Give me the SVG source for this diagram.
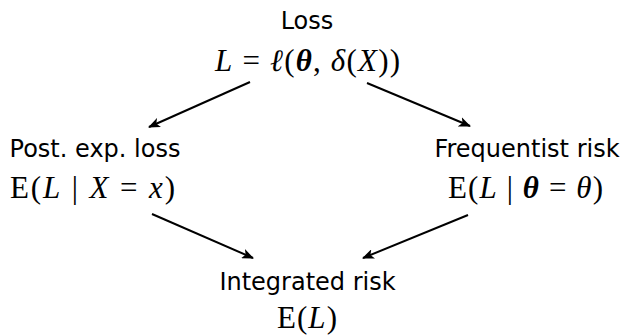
<svg xmlns="http://www.w3.org/2000/svg" width="623" height="335" viewBox="0 0 623 335">
<style>
.lab{font-family:"DejaVu Sans","Liberation Sans",sans-serif;font-size:24px;fill:#000;text-anchor:middle}
.m{font-family:"Liberation Serif","DejaVu Serif",serif;font-size:31px;fill:#000;text-anchor:middle}
.i{font-style:italic}
.b{font-style:italic;font-weight:bold}
.c{stroke:#000;stroke-width:2;fill:none}
</style>
<defs>
<marker id="ah" viewBox="0 0 12 10" refX="11" refY="5" markerWidth="12" markerHeight="10" markerUnits="userSpaceOnUse" orient="auto">
<path d="M0,0 L12,5 L0,10 L3,5 Z" fill="#000"/>
</marker>
</defs>
<rect width="623" height="335" fill="#fff"/>
<g id="loss">
<text class="lab" x="307" y="29">Loss</text>
<text class="m" x="307.5" y="71" textLength="185" lengthAdjust="spacing"><tspan class="i">L</tspan> = <tspan class="i">ℓ</tspan>(<tspan class="b">θ</tspan>, <tspan class="i">δ</tspan>(<tspan class="i">X</tspan>))</text>
</g>
<g id="post">
<text class="lab" x="95" y="157">Post. exp. loss</text>
<text class="m" x="92.5" y="198" textLength="165" lengthAdjust="spacing">E(<tspan class="i">L</tspan> | <tspan class="i">X</tspan> = <tspan class="i">x</tspan>)</text>
</g>
<g id="freq">
<text class="lab" x="527" y="157">Frequentist risk</text>
<text class="m" x="525.5" y="198" textLength="155" lengthAdjust="spacing">E(<tspan class="i">L</tspan> | <tspan class="b">θ</tspan> = <tspan class="i">θ</tspan>)</text>
</g>
<g id="integ">
<text class="lab" x="307.5" y="290">Integrated risk</text>
<text class="m" x="307" y="328" textLength="60" lengthAdjust="spacing">E(<tspan class="i">L</tspan>)</text>
</g>
<g id="connectors">
<line class="c" x1="250" y1="82" x2="149" y2="127" marker-end="url(#ah)"/>
<line class="c" x1="367" y1="83" x2="470" y2="126" marker-end="url(#ah)"/>
<line class="c" x1="152" y1="214" x2="253" y2="258" marker-end="url(#ah)"/>
<line class="c" x1="468" y1="215" x2="363" y2="258" marker-end="url(#ah)"/>
</g>
</svg>
